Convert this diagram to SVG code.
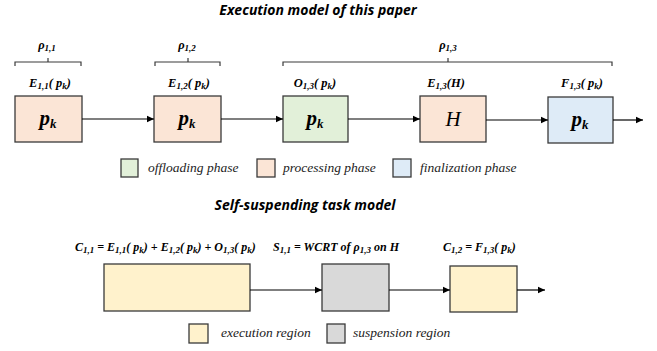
<svg xmlns="http://www.w3.org/2000/svg" width="657" height="351" viewBox="0 0 657 351">
<defs>
<marker id="ah" markerWidth="8" markerHeight="8" refX="7" refY="4" orient="auto" markerUnits="userSpaceOnUse">
<path d="M0,0.8 L7,4 L0,7.2 Z" fill="#000"/>
</marker>
<style>
.title{font-family:"Open Sans","Liberation Sans",sans-serif;font-weight:bold;font-style:italic;font-size:14px;fill:#000}
.m{font-family:"Liberation Serif","DejaVu Serif",serif;font-weight:bold;font-style:italic;font-size:12.5px;fill:#000}
.f{font-size:12px}
.big{font-family:"Liberation Serif","DejaVu Serif",serif;font-weight:bold;font-style:italic;font-size:21px;fill:#000}
.h{font-family:"Liberation Serif","DejaVu Serif",serif;font-style:italic;font-size:21px;fill:#000}
.leg{font-family:"Liberation Serif","DejaVu Serif",serif;font-style:italic;font-size:13.5px;fill:#222}
.box{stroke:#3a3a3a;stroke-width:1.3}
.or{fill:#FBE5D6}.gr{fill:#E2F0D9}.bl{fill:#DEEBF7}.ye{fill:#FFF2CC}.gy{fill:#D9D9D9}
.br{fill:none;stroke:#3a3a3a;stroke-width:1.2}
.conn{stroke:#000;stroke-width:1.2;fill:none;marker-end:url(#ah)}
.sub{font-size:9px}
</style>
</defs>

<text class="title" x="318" y="15" text-anchor="middle">Execution model of this paper</text>

<g id="braces">
<path class="br" d="M15,66 V62 H81 V66 M48,62 V58"/>
<path class="br" d="M155,66 V62 H220 V66 M188,62 V58"/>
<path class="br" d="M283,66 V62 H612 V66 M448,62 V58"/>
<text class="m" x="47" y="49" text-anchor="middle">ρ<tspan class="sub" dy="2">1,1</tspan></text>
<text class="m" x="187" y="49" text-anchor="middle">ρ<tspan class="sub" dy="2">1,2</tspan></text>
<text class="m" x="448" y="49" text-anchor="middle">ρ<tspan class="sub" dy="2">1,3</tspan></text>
</g>

<g id="n1">
<text class="m" x="50" y="87" text-anchor="middle">E<tspan class="sub" dy="2">1,1</tspan><tspan dy="-2">( p</tspan><tspan class="sub" dy="2">k</tspan><tspan dy="-2">)</tspan></text>
<rect class="box or" x="15" y="96" width="67" height="46"/>
<text class="big" x="48" y="125" text-anchor="middle">p<tspan font-size="13" dy="3">k</tspan></text>
</g>
<g id="n2">
<text class="m" x="189" y="87" text-anchor="middle">E<tspan class="sub" dy="2">1,2</tspan><tspan dy="-2">( p</tspan><tspan class="sub" dy="2">k</tspan><tspan dy="-2">)</tspan></text>
<rect class="box or" x="154" y="96" width="67" height="46"/>
<text class="big" x="187" y="125" text-anchor="middle">p<tspan font-size="13" dy="3">k</tspan></text>
</g>
<g id="n3">
<text class="m" x="315" y="87" text-anchor="middle">O<tspan class="sub" dy="2">1,3</tspan><tspan dy="-2">( p</tspan><tspan class="sub" dy="2">k</tspan><tspan dy="-2">)</tspan></text>
<rect class="box gr" x="283" y="96" width="65" height="46"/>
<text class="big" x="315" y="125" text-anchor="middle">p<tspan font-size="13" dy="3">k</tspan></text>
</g>
<g id="n4">
<text class="m" x="446" y="87" text-anchor="middle">E<tspan class="sub" dy="2">1,3</tspan><tspan dy="-2">(H)</tspan></text>
<rect class="box or" x="420" y="96" width="66" height="46"/>
<text class="h" x="453" y="126" text-anchor="middle">H</text>
</g>
<g id="n5">
<text class="m" x="582" y="87" text-anchor="middle">F<tspan class="sub" dy="2">1,3</tspan><tspan dy="-2">( p</tspan><tspan class="sub" dy="2">k</tspan><tspan dy="-2">)</tspan></text>
<rect class="box bl" x="548" y="97" width="65" height="46"/>
<text class="big" x="580" y="126" text-anchor="middle">p<tspan font-size="13" dy="3">k</tspan></text>
</g>

<g id="legend1">
<rect class="box gr" x="121" y="159" width="17" height="18"/>
<text class="leg" x="148" y="172">offloading phase</text>
<rect class="box or" x="257" y="159" width="18" height="18"/>
<text class="leg" x="283" y="172">processing phase</text>
<rect class="box bl" x="393" y="159" width="18" height="18"/>
<text class="leg" x="420" y="172">finalization phase</text>
</g>

<text class="title" x="305" y="210" text-anchor="middle">Self-suspending task model</text>

<g id="labels2">
<text class="m f" x="75" y="251">C<tspan class="sub" dy="2">1,1</tspan><tspan dy="-2"> = E</tspan><tspan class="sub" dy="2">1,1</tspan><tspan dy="-2">( p</tspan><tspan class="sub" dy="2">k</tspan><tspan dy="-2">) + E</tspan><tspan class="sub" dy="2">1,2</tspan><tspan dy="-2">( p</tspan><tspan class="sub" dy="2">k</tspan><tspan dy="-2">) + O</tspan><tspan class="sub" dy="2">1,3</tspan><tspan dy="-2">( p</tspan><tspan class="sub" dy="2">k</tspan><tspan dy="-2">)</tspan></text>
<text class="m f" x="273" y="251">S<tspan class="sub" dy="2">1,1</tspan><tspan dy="-2"> = WCRT of ρ</tspan><tspan class="sub" dy="2">1,3</tspan><tspan dy="-2"> on H</tspan></text>
<text class="m f" x="443" y="251">C<tspan class="sub" dy="2">1,2</tspan><tspan dy="-2"> = F</tspan><tspan class="sub" dy="2">1,3</tspan><tspan dy="-2">( p</tspan><tspan class="sub" dy="2">k</tspan><tspan dy="-2">)</tspan></text>
</g>

<g id="e1"><rect class="box ye" x="104" y="264" width="146" height="47"/></g>
<g id="s1"><rect class="box gy" x="322" y="264" width="67" height="47"/></g>
<g id="e2"><rect class="box ye" x="450" y="266" width="67" height="46"/></g>

<g id="legend2">
<rect class="box ye" x="189" y="324" width="19" height="19"/>
<text class="leg" x="221" y="337">execution region</text>
<rect class="box gy" x="327" y="324" width="18" height="19"/>
<text class="leg" x="353" y="337">suspension region</text>
</g>

<g id="connectors">
<line class="conn" x1="82" y1="119" x2="154" y2="119"/>
<line class="conn" x1="221" y1="119" x2="283" y2="119"/>
<line class="conn" x1="348" y1="119" x2="420" y2="119"/>
<line class="conn" x1="486" y1="120" x2="548" y2="120"/>
<line class="conn" x1="613" y1="120" x2="643" y2="120"/>
<line class="conn" x1="250" y1="290" x2="322" y2="290"/>
<line class="conn" x1="389" y1="290" x2="450" y2="290"/>
<line class="conn" x1="517" y1="290" x2="545" y2="290"/>
</g>
</svg>
